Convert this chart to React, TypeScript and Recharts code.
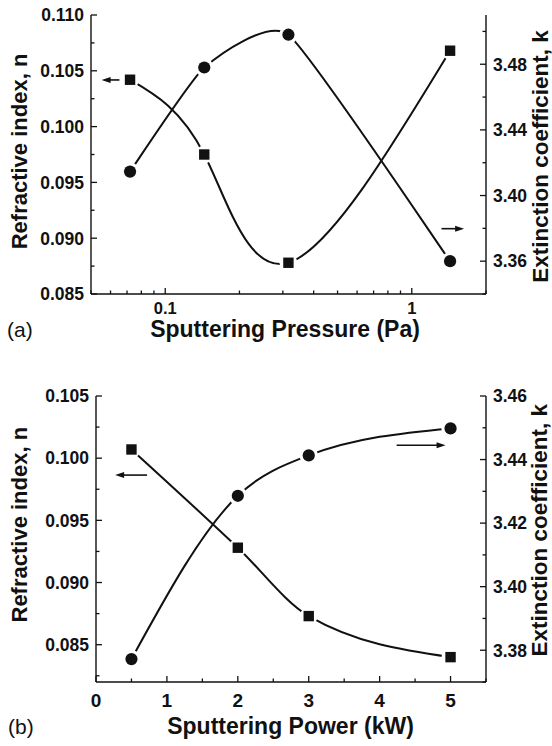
import React from "react";
import { ComposedChart, Line, XAxis, YAxis, ReferenceLine } from "recharts";

const FONT = '"Liberation Sans", Arial, Helvetica, sans-serif';
const INK = "#111";

// ---- panel (a): n and k vs sputtering pressure ----
const pressurePa = [0.072, 0.144, 0.316, 1.43];
const nVsPressure = [0.1042, 0.0975, 0.0878, 0.1068];
const kVsPressure = [3.4146, 3.478, 3.498, 3.36];

const pressureTicks = [0.05, 0.06, 0.07, 0.08, 0.09, 0.1, 0.2, 0.3, 0.4, 0.5, 0.6, 0.7, 0.8, 0.9, 1, 2];
const pressureMajor = [0.1, 1];
const nTicksA = [0.085, 0.0875, 0.09, 0.0925, 0.095, 0.0975, 0.1, 0.1025, 0.105, 0.1075, 0.11];
const nMajorA = [0.085, 0.09, 0.095, 0.1, 0.105, 0.11];
const kTicksA = [3.34, 3.36, 3.38, 3.4, 3.42, 3.44, 3.46, 3.48, 3.5];
const kMajorA = [3.36, 3.4, 3.44, 3.48];

// ---- panel (b): n and k vs sputtering power ----
const powerKW = [0.5, 2, 3, 5];
const nVsPower = [0.1007, 0.0928, 0.0873, 0.084];
const kVsPower = [3.3772, 3.4286, 3.4413, 3.4498];

const powerTicks = [0, 0.5, 1, 1.5, 2, 2.5, 3, 3.5, 4, 4.5, 5, 5.5];
const powerMajor = [0, 1, 2, 3, 4, 5];
const nTicksB = [0.0825, 0.085, 0.0875, 0.09, 0.0925, 0.095, 0.0975, 0.1, 0.1025, 0.105];
const nMajorB = [0.085, 0.09, 0.095, 0.1, 0.105];
const kTicksB = [3.37, 3.38, 3.39, 3.4, 3.41, 3.42, 3.43, 3.44, 3.45, 3.46];
const kMajorB = [3.38, 3.4, 3.42, 3.44, 3.46];

const axisLine = { stroke: INK, strokeWidth: 1.4 };

type Side = "left" | "right" | "top" | "bottom";
const isIn = (list: number[], v: number) => list.some((m) => Math.abs(m - v) < 1e-9);

// ticks point into the plot, labels sit outside
function inwardTick(side: Side, majors: number[], fmt?: (v: number) => string, fontSize = 17.5, gap = 7) {
  return (props: any) => {
    const { x, y, payload } = props;
    const v = Number(payload.value);
    const major = isIn(majors, v);
    const len = major ? 6 : 3.5;
    const txt = major && fmt ? fmt(v) : null;
    const ts = { fontFamily: FONT, fontWeight: 700, fontSize, fill: INK };
    let line: React.ReactNode = null;
    let label: React.ReactNode = null;
    if (side === "left") {
      line = <line x1={x} y1={y} x2={x + len} y2={y} />;
      if (txt) label = <text x={x - gap} y={y} dy="0.36em" textAnchor="end" {...ts}>{txt}</text>;
    } else if (side === "right") {
      line = <line x1={x} y1={y} x2={x - len} y2={y} />;
      if (txt) label = <text x={x + gap} y={y} dy="0.36em" textAnchor="start" {...ts}>{txt}</text>;
    } else if (side === "bottom") {
      line = <line x1={x} y1={y} x2={x} y2={y - len} />;
      if (txt) label = <text x={x} y={y + gap} textAnchor="middle" {...ts}>{txt}</text>;
    } else {
      line = <line x1={x} y1={y} x2={x} y2={y + len} />;
    }
    return (
      <g>
        <g stroke={INK} strokeWidth={1.3}>{line}</g>
        {label}
      </g>
    );
  };
}

// cardinal spline through the points (tension 0 = Catmull-Rom)
function cardinalCurve(tension: number) {
  return (context: any) => {
    let pts: number[][] = [];
    return {
      areaStart() {},
      areaEnd() {},
      lineStart() {
        pts = [];
      },
      point(x: number, y: number) {
        pts.push([+x, +y]);
      },
      lineEnd() {
        const n = pts.length;
        if (!n) return;
        const k = (1 - tension) / 6;
        context.moveTo(pts[0][0], pts[0][1]);
        for (let i = 0; i < n - 1; i++) {
          const p0 = pts[Math.max(0, i - 1)];
          const p1 = pts[i];
          const p2 = pts[i + 1];
          const p3 = pts[Math.min(n - 1, i + 2)];
          context.bezierCurveTo(
            p1[0] + k * (p2[0] - p0[0]),
            p1[1] + k * (p2[1] - p0[1]),
            p2[0] - k * (p3[0] - p1[0]),
            p2[1] - k * (p3[1] - p1[1]),
            p2[0],
            p2[1]
          );
        }
      },
    };
  };
}

const squareDot = (p: any) => {
  const { cx, cy, index } = p;
  if (cx == null || cy == null) return <g key={`s${index}`} />;
  return (
    <g key={`s${index}`}>
      <circle cx={cx} cy={cy} r={9} fill="#fff" />
      <rect x={cx - 5.2} y={cy - 5.2} width={10.4} height={10.4} fill={INK} />
    </g>
  );
};

const circleDot = (p: any) => {
  const { cx, cy, index } = p;
  if (cx == null || cy == null) return <g key={`c${index}`} />;
  return (
    <g key={`c${index}`}>
      <circle cx={cx} cy={cy} r={9.2} fill="#fff" />
      <circle cx={cx} cy={cy} r={6.1} fill={INK} />
    </g>
  );
};

// arrow from (x1,y1) to head at (x2,y2)
const arrowShape = (p: any) => {
  const { x1, y1, x2, y2 } = p;
  const dir = Math.sign(x2 - x1) || 1;
  return (
    <g>
      <line x1={x1} y1={y1} x2={x2 - dir * 6} y2={y2} stroke={INK} strokeWidth={1.6} />
      <polygon points={`${x2},${y2} ${x2 - dir * 9},${y2 - 3} ${x2 - dir * 9},${y2 + 3}`} fill={INK} />
    </g>
  );
};

const titleStyle = { fontFamily: FONT, fontWeight: 700, fill: INK };

function yTitle(text: string, x: number, cy: number, size: number) {
  return () => (
    <text x={x} y={cy} transform={`rotate(-90 ${x} ${cy})`} textAnchor="middle" fontSize={size} {...titleStyle}>
      {text}
    </text>
  );
}

function xTitle(text: string, cx: number, base: number, tag: string, tagX: number) {
  return () => (
    <g>
      <text x={cx} y={base} textAnchor="middle" fontSize={23} {...titleStyle}>{text}</text>
      <text x={tagX} y={base} textAnchor="start" fontFamily={FONT} fontSize={21} fill={INK}>{tag}</text>
    </g>
  );
}

function PanelA() {
  const data = pressurePa.map((x, i) => ({ x, n: nVsPressure[i], k: kVsPressure[i] }));
  return (
    <ComposedChart width={552} height={373} data={data} margin={{ top: 15, right: 0, bottom: 0, left: 0 }}>
      <XAxis
        xAxisId="main"
        dataKey="x"
        type="number"
        scale="log"
        domain={[0.05, 2]}
        allowDataOverflow
        ticks={pressureTicks}
        interval={0}
        tickSize={0}
        tickMargin={0}
        tickLine={false}
        axisLine={axisLine}
        height={79}
        tick={inwardTick("bottom", pressureMajor, (v) => String(v), 16.5, 20)}
        label={xTitle("Sputtering Pressure (Pa)", 285, 337, "(a)", 7)}
      />
      <XAxis
        xAxisId="top"
        orientation="top"
        type="number"
        scale="log"
        domain={[0.05, 2]}
        allowDataOverflow
        ticks={pressureTicks}
        interval={0}
        tickSize={0}
        tickMargin={0}
        tickLine={false}
        axisLine={axisLine}
        height={0}
        tick={inwardTick("top", pressureMajor)}
      />
      <YAxis
        yAxisId="n"
        type="number"
        domain={[0.085, 0.11]}
        allowDataOverflow
        ticks={nTicksA}
        interval={0}
        tickSize={0}
        tickMargin={0}
        tickLine={false}
        axisLine={axisLine}
        width={91}
        tick={inwardTick("left", nMajorA, (v) => v.toFixed(3))}
        label={yTitle("Refractive index, n", 26.7, 151.5, 22)}
      />
      <YAxis
        yAxisId="k"
        orientation="right"
        type="number"
        domain={[3.34, 3.51]}
        allowDataOverflow
        ticks={kTicksA}
        interval={0}
        tickSize={0}
        tickMargin={0}
        tickLine={false}
        axisLine={axisLine}
        width={66}
        tick={inwardTick("right", kMajorA, (v) => v.toFixed(2))}
        label={yTitle("Extinction coefficient, k", 547.5, 156.5, 22.5)}
      />
      <Line xAxisId="main" yAxisId="n" dataKey="n" type="natural" stroke={INK} strokeWidth={2} dot={squareDot} activeDot={false} isAnimationActive={false} />
      <Line xAxisId="main" yAxisId="k" dataKey="k" type={cardinalCurve(0.5) as any} stroke={INK} strokeWidth={2} dot={circleDot} activeDot={false} isAnimationActive={false} />
      <ReferenceLine xAxisId="main" yAxisId="n" segment={[{ x: 0.0652, y: 0.10418 }, { x: 0.0552, y: 0.10418 }]} shape={arrowShape} />
      <ReferenceLine xAxisId="main" yAxisId="k" segment={[{ x: 1.32, y: 3.3798 }, { x: 1.63, y: 3.3798 }]} shape={arrowShape} />
    </ComposedChart>
  );
}

function PanelB() {
  const data = powerKW.map((x, i) => ({ x, n: nVsPower[i], k: kVsPower[i] }));
  return (
    <ComposedChart width={552} height={373} data={data} margin={{ top: 23, right: 0, bottom: 0, left: 0 }}>
      <XAxis
        xAxisId="main"
        dataKey="x"
        type="number"
        domain={[0, 5.5]}
        allowDataOverflow
        ticks={powerTicks}
        interval={0}
        tickSize={0}
        tickMargin={0}
        tickLine={false}
        axisLine={axisLine}
        height={64}
        tick={inwardTick("bottom", powerMajor, (v) => String(v), 19, 25)}
        label={xTitle("Sputtering Power (kW)", 290.5, 361, "(b)", 8)}
      />
      <XAxis
        xAxisId="top"
        orientation="top"
        type="number"
        domain={[0, 5.5]}
        allowDataOverflow
        ticks={powerTicks}
        interval={0}
        tickSize={0}
        tickMargin={0}
        tickLine={false}
        axisLine={axisLine}
        height={0}
        tick={inwardTick("top", powerMajor)}
      />
      <YAxis
        yAxisId="n"
        type="number"
        domain={[0.082, 0.105]}
        allowDataOverflow
        ticks={nTicksB}
        interval={0}
        tickSize={0}
        tickMargin={0}
        tickLine={false}
        axisLine={axisLine}
        width={96}
        tick={inwardTick("left", nMajorB, (v) => v.toFixed(3))}
        label={yTitle("Refractive index, n", 26.7, 151.7, 22)}
      />
      <YAxis
        yAxisId="k"
        orientation="right"
        type="number"
        domain={[3.37, 3.46]}
        allowDataOverflow
        ticks={kTicksB}
        interval={0}
        tickSize={0}
        tickMargin={0}
        tickLine={false}
        axisLine={axisLine}
        width={66}
        tick={inwardTick("right", kMajorB, (v) => v.toFixed(2))}
        label={yTitle("Extinction coefficient, k", 547.5, 157.2, 22.5)}
      />
      <Line xAxisId="main" yAxisId="n" dataKey="n" type="monotoneX" stroke={INK} strokeWidth={2} dot={squareDot} activeDot={false} isAnimationActive={false} />
      <Line xAxisId="main" yAxisId="k" dataKey="k" type="monotoneX" stroke={INK} strokeWidth={2} dot={circleDot} activeDot={false} isAnimationActive={false} />
      <ReferenceLine xAxisId="main" yAxisId="n" segment={[{ x: 0.72, y: 0.09864 }, { x: 0.27, y: 0.09864 }]} shape={arrowShape} />
      <ReferenceLine xAxisId="main" yAxisId="k" segment={[{ x: 4.24, y: 3.4445 }, { x: 4.93, y: 3.4445 }]} shape={arrowShape} />
    </ComposedChart>
  );
}

export default function App() {
  return (
    <div style={{ position: "absolute", left: 0, top: 0, width: 552, height: 746, background: "#fff" }}>
      <PanelA />
      <PanelB />
    </div>
  );
}
